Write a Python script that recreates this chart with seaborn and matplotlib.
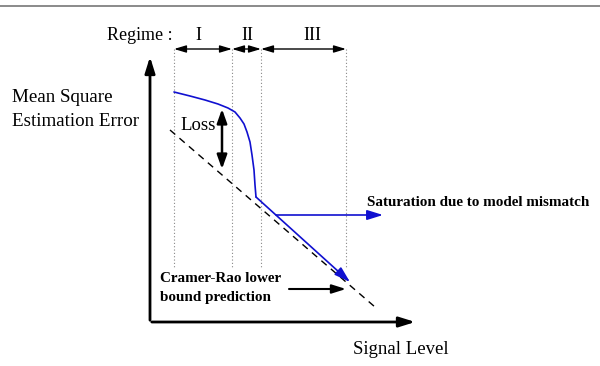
import matplotlib
matplotlib.use("Agg")
import matplotlib.pyplot as plt
import seaborn as sns
import pandas as pd

sns.set_theme(style="white")
plt.rcParams['font.family'] = ['Liberation Serif', 'DejaVu Serif']
plt.rcParams['text.color'] = 'black'

# schematic data (pixel-like units, y grows downward)
curve_x = [174, 190, 205, 218, 228, 235, 240, 244, 247, 250, 252, 254, 255, 256]
curve_y = [92, 96, 100, 104, 108, 112, 118, 124, 132, 142, 155, 170, 185, 197]
tail_x = [256, 350]
tail_y = [197, 282]
crlb_x = [170, 375]
crlb_y = [130, 307]
regime_bounds = [174, 232, 261, 346]
regime_labels = ["I", "II", "III"]
regime_label_x = [198, 247, 312]

fig = plt.figure(figsize=(6, 3.66), dpi=100)
ax = fig.add_axes([0, 0, 1, 1])
ax.set_xlim(0, 600)
ax.set_ylim(366, 0)
ax.axis("off")

# top rule
ax.plot([0, 600], [6, 6], color="#777777", lw=1.2)

# axes arrows
ax.annotate("", xy=(150, 54), xytext=(150, 323),
            arrowprops=dict(arrowstyle="-|>,head_length=0.8,head_width=0.25", color="black", lw=2))
ax.annotate("", xy=(418, 322), xytext=(149, 322),
            arrowprops=dict(arrowstyle="-|>,head_length=0.8,head_width=0.25", color="black", lw=2))

# dotted regime lines
for xb in regime_bounds:
    ax.plot([xb, xb], [49, 268], color="#888888", lw=0.8, ls=(0, (1, 2)))

# regime arrows
for a, b, lab, lx in zip(regime_bounds[:-1], regime_bounds[1:], regime_labels, regime_label_x):
    ax.annotate("", xy=(a, 49), xytext=(b, 49),
                arrowprops=dict(arrowstyle="<|-|>,head_length=0.6,head_width=0.18",
                                color="black", lw=1, shrinkA=0, shrinkB=0))
    ax.text(lx, 35, lab, ha="center", va="center", fontsize=13, color="black")
ax.text(173, 35, "Regime :", ha="right", va="center", fontsize=13, color="black")

# CRLB dashed
df_c = pd.DataFrame({"x": crlb_x, "y": crlb_y})
sns.lineplot(data=df_c, x="x", y="y", sort=False, ax=ax, color="black", lw=1, ls=(0, (5, 4)))

# blue curve
df_b = pd.DataFrame({"x": curve_x, "y": curve_y})
sns.lineplot(data=df_b, x="x", y="y", sort=False, ax=ax, color="#1010d0", lw=1.2)
ax.annotate("", xy=(tail_x[1], tail_y[1]), xytext=(tail_x[0], tail_y[0]),
            arrowprops=dict(arrowstyle="-|>,head_length=0.8,head_width=0.25",
                            color="#1010d0", lw=1.2, shrinkA=0, shrinkB=0))
ax.annotate("", xy=(383, 215), xytext=(276, 215),
            arrowprops=dict(arrowstyle="-|>,head_length=0.8,head_width=0.25",
                            color="#1010d0", lw=1.2, shrinkA=0, shrinkB=0))

# loss arrow
ax.annotate("", xy=(222, 109), xytext=(222, 169),
            arrowprops=dict(arrowstyle="<|-|>,head_length=0.7,head_width=0.25",
                            color="black", lw=1.8, shrinkA=0, shrinkB=0))
ax.text(180, 125, "Loss", ha="left", va="center", fontsize=13.5, color="black")

# CRLB label arrow
ax.annotate("", xy=(346, 289), xytext=(289, 289),
            arrowprops=dict(arrowstyle="-|>,head_length=0.7,head_width=0.22",
                            color="black", lw=1.5, shrinkA=0, shrinkB=0))

ax.text(12, 97, "Mean Square", ha="left", va="center", fontsize=13.7, color="black")
ax.text(12, 121, "Estimation Error", ha="left", va="center", fontsize=13.7, color="black")
ax.text(353, 349, "Signal Level", ha="left", va="center", fontsize=13.5, color="black")
ax.text(367, 202, "Saturation due to model mismatch", ha="left", va="center",
        fontsize=10.9, fontweight="bold", color="black")
ax.text(160, 279, "Cramer-Rao lower", ha="left", va="center", fontsize=10.9,
        fontweight="bold", color="black")
ax.text(160, 298, "bound prediction", ha="left", va="center", fontsize=10.9,
        fontweight="bold", color="black")

fig.savefig("out.png", dpi=100)
